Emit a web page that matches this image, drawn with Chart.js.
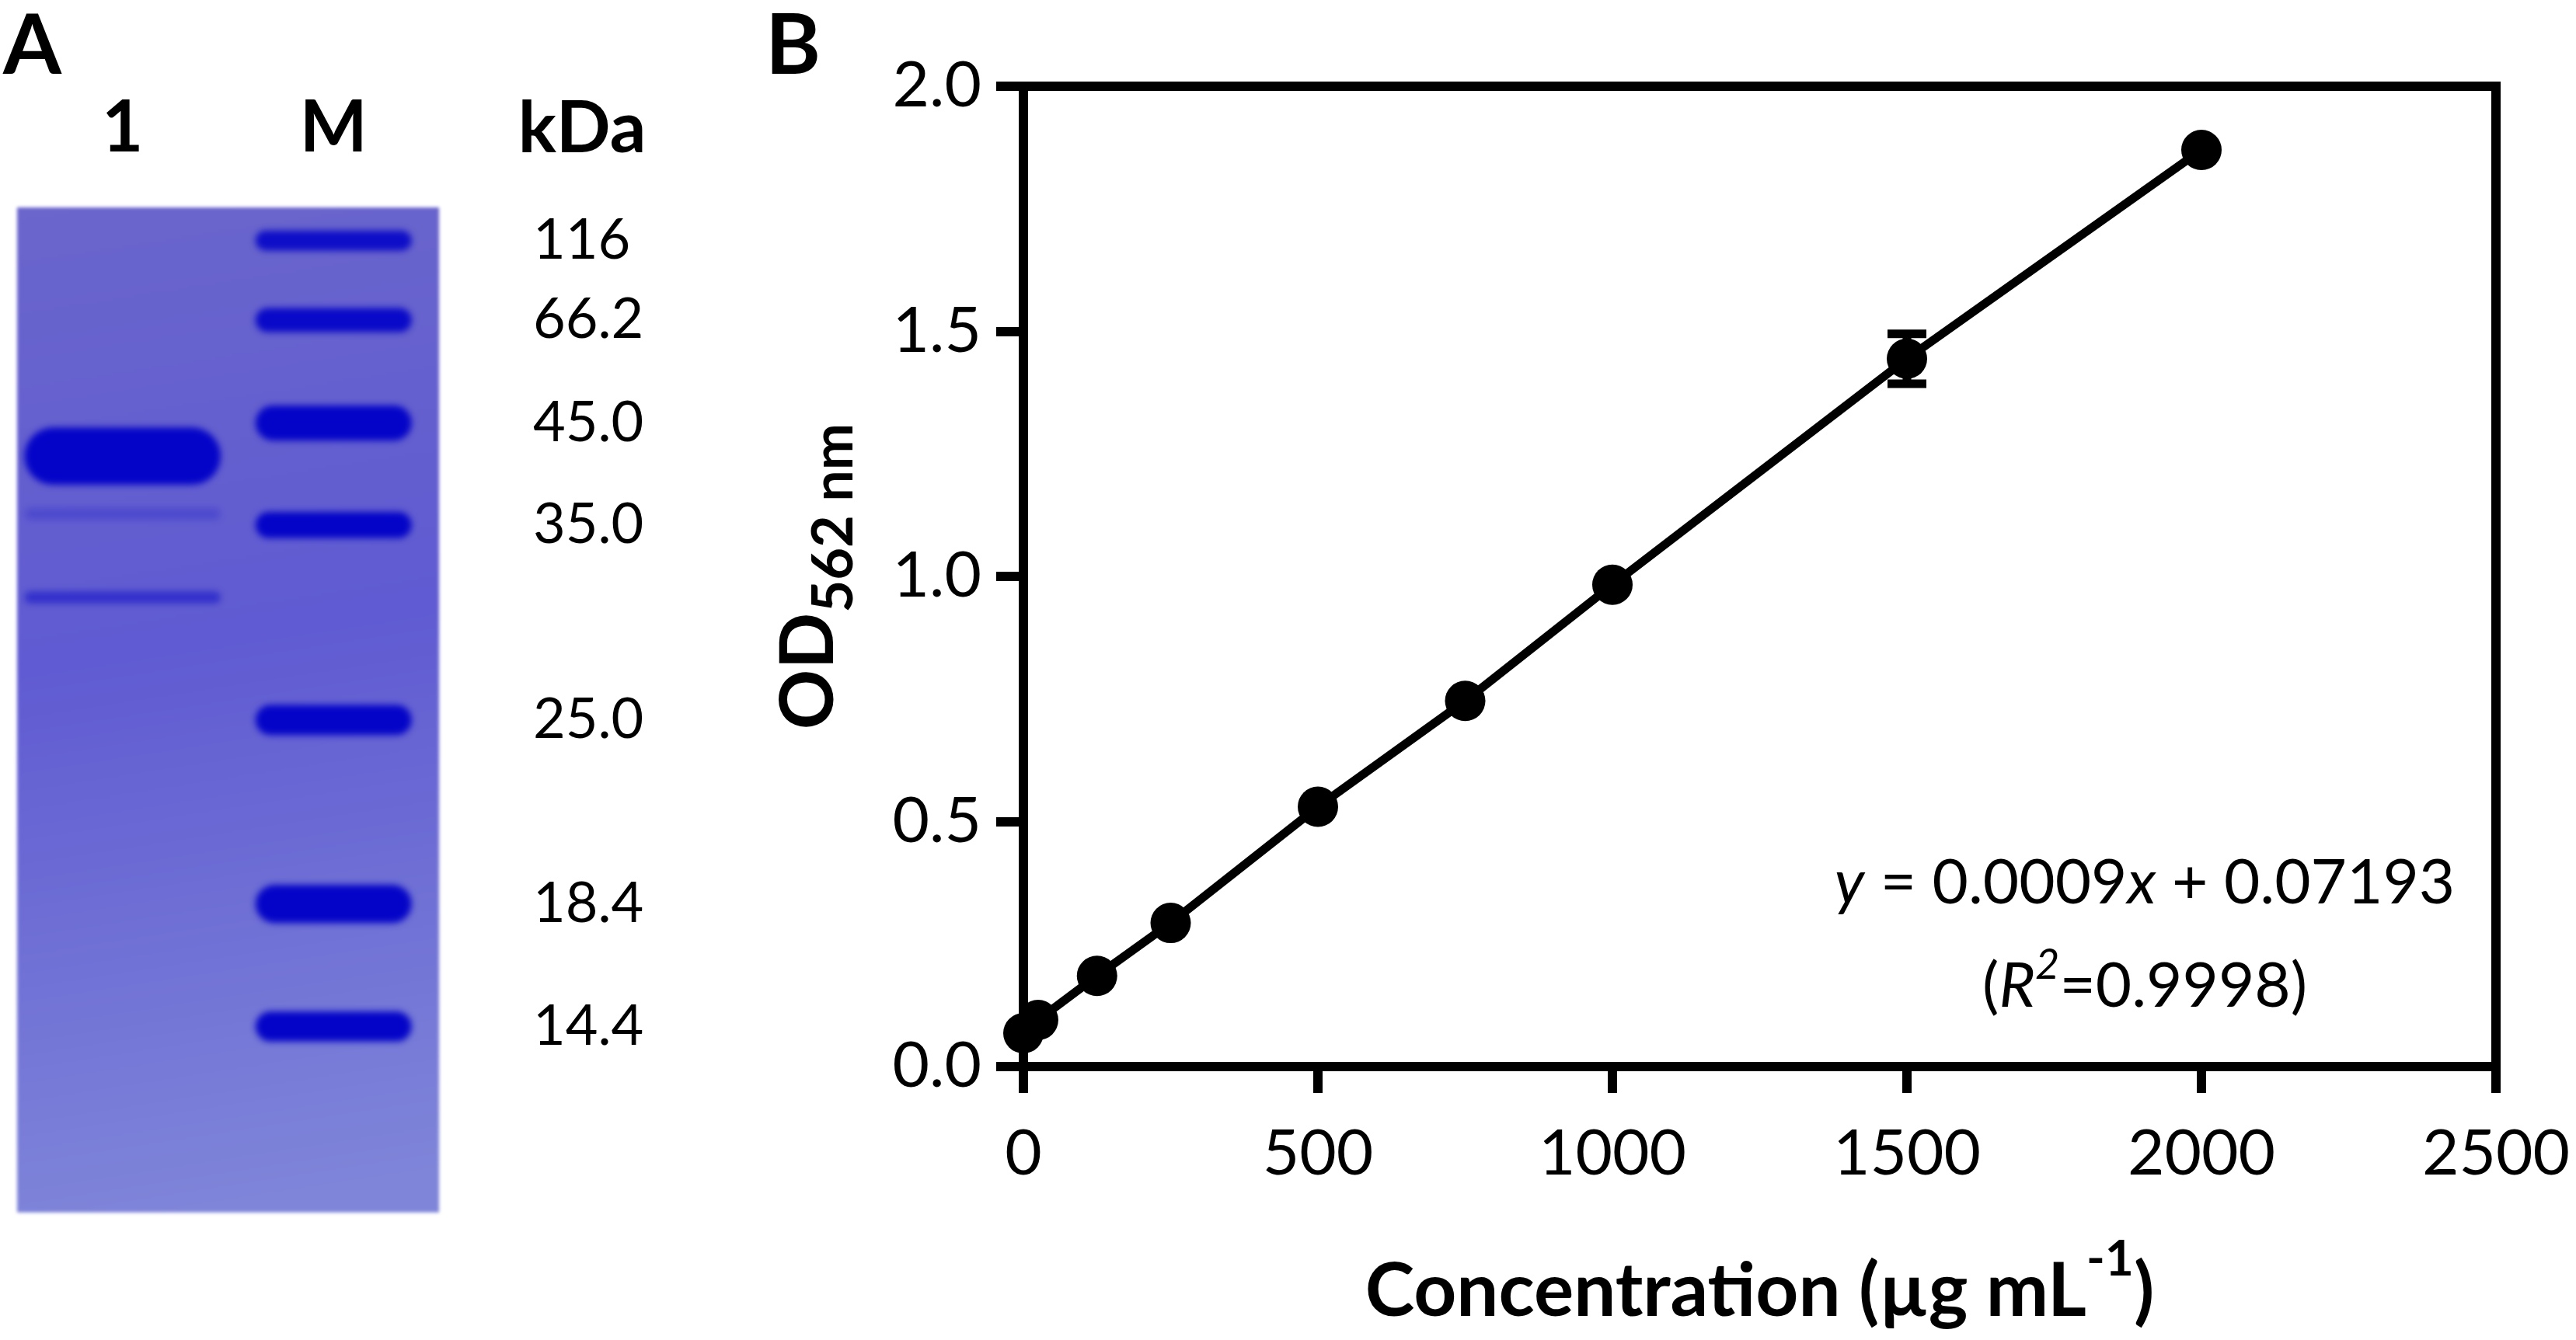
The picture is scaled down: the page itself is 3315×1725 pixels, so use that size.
<!DOCTYPE html>
<html>
<head>
<meta charset="utf-8">
<script src="https://cdn.jsdelivr.net/npm/chart.js@4.4.1/dist/chart.umd.min.js"></script>
<style>
  html, body { margin: 0; padding: 0; background: #fff; }
  body { width: 3315px; height: 1725px; position: relative; overflow: hidden; }
  #gel { position: absolute; left: 0; top: 0; }
  #curve { position: absolute; left: 900px; top: 0; }
</style>
</head>
<body>
<canvas id="gel" width="900" height="1725"></canvas>
<canvas id="curve" width="2415" height="1725"></canvas>
<script>
// panel A: SDS-PAGE, band positions as % of gel length from the top
const lanes = ['1', 'M'];
const markerKDa = ['116', '66.2', '45.0', '35.0', '25.0', '18.4', '14.4'];
const markerBands = [[2.3, 4.3], [10.0, 12.4], [19.7, 23.2], [30.3, 32.9], [49.5, 52.5], [67.4, 71.2], [80.0, 83.0]];
const markerIntensity = [0.9, 0.95, 1, 1, 1, 1, 1];
const sampleBands = [[21.9, 27.6], [29.9, 31.1], [38.2, 39.4]];
const sampleIntensity = [1, 0.22, 0.5];

// panel B: BCA standard curve
const concentration = [0, 25, 125, 250, 500, 750, 1000, 1500, 2000];
const od562 = [0.068, 0.095, 0.185, 0.293, 0.530, 0.746, 0.983, 1.444, 1.870];
const odSD = [0, 0, 0, 0, 0, 0, 0, 0.051, 0];
const xTicks = [0, 500, 1000, 1500, 2000, 2500];
const yTicks = [0, 0.5, 1.0, 1.5, 2.0];

Chart.defaults.font.family = 'Lato, "Open Sans", sans-serif';
Chart.defaults.color = '#000';

function drawRuns(ctx, runs, x, y) {
  let total = 0;
  runs.forEach(r => { ctx.font = r.font; r.w = ctx.measureText(r.text).width; total += r.w; });
  let cx = x - total / 2;
  runs.forEach(r => { ctx.font = r.font; ctx.fillText(r.text, cx, y + (r.dy || 0)); cx += r.w; });
}

const gelLook = {
  id: 'gelLook',
  beforeDatasetsDraw(chart) {
    const { ctx, chartArea: a } = chart;
    const g = ctx.createLinearGradient(a.left, a.top, a.left + 200, a.bottom);
    g.addColorStop(0, '#6a66cc');
    g.addColorStop(0.45, '#605bd2');
    g.addColorStop(1, '#7f85d9');
    ctx.save();
    ctx.filter = 'blur(2px)';
    ctx.fillStyle = g;
    ctx.fillRect(a.left, a.top, a.right - a.left, a.bottom - a.top);
    ctx.restore();
    ctx.save();
    ctx.filter = 'blur(4px)';
  },
  afterDatasetsDraw(chart) {
    chart.ctx.restore();
  },
  afterDraw(chart) {
    const ctx = chart.ctx;
    ctx.save();
    ctx.fillStyle = '#000';
    ctx.textBaseline = 'alphabetic';
    ctx.textAlign = 'left';
    ctx.font = 'bold 108px Lato';
    ctx.fillText('A', 4, 95);
    ctx.textAlign = 'center';
    ctx.textBaseline = 'middle';
    ctx.font = 'bold 92px Lato';
    const xs = chart.scales.x;
    ctx.fillText('kDa', 749, xs.bottom - 46 - 55);
    ctx.restore();
  }
};

const bandSet = (band, lane, alpha, pct) => ({
  data: lane === 0 ? [band, null] : [null, band],
  backgroundColor: 'rgba(4, 4, 200, ' + alpha + ')',
  barPercentage: pct,
  categoryPercentage: 1,
  grouped: false,
  borderRadius: 60,
  borderSkipped: false
});

new Chart(document.getElementById('gel'), {
  type: 'bar',
  data: {
    labels: lanes,
    datasets: [
      ...sampleBands.map((b, i) => bandSet(b, 0, sampleIntensity[i], 0.93)),
      ...markerBands.map((b, i) => bandSet(b, 1, markerIntensity[i], 0.74))
    ]
  },
  options: {
    responsive: false,
    animation: false,
    devicePixelRatio: 1,
    layout: { padding: { left: 22, top: 0, right: 0, bottom: 150 } },
    plugins: { legend: { display: false }, tooltip: { enabled: false } },
    scales: {
      x: {
        position: 'top',
        grid: { display: false, drawTicks: false },
        border: { display: false },
        ticks: { font: { size: 92, weight: 'bold' }, padding: 46 },
        afterFit: s => { s.height = 267; }
      },
      y: {
        position: 'right',
        reverse: true,
        min: 0,
        max: 100,
        grid: { display: false, drawTicks: false },
        border: { display: false },
        ticks: { font: { size: 72 }, padding: 121, autoSkip: false, callback: (v, i) => markerKDa[i] },
        afterBuildTicks: s => { s.ticks = markerBands.map(b => ({ value: (b[0] + b[1]) / 2 })); },
        afterFit: s => { s.width = 335; }
      }
    }
  },
  plugins: [gelLook]
});

const frame = {
  id: 'frame',
  beforeDatasetsDraw(chart) {
    const { ctx, chartArea: a } = chart;
    ctx.save();
    ctx.strokeStyle = '#000';
    ctx.lineWidth = 12;
    ctx.beginPath();
    ctx.moveTo(a.left, a.top);
    ctx.lineTo(a.right + 6, a.top);
    ctx.moveTo(a.right, a.top);
    ctx.lineTo(a.right, a.bottom);
    ctx.stroke();
    ctx.restore();
  }
};

const errorBars = {
  id: 'errorBars',
  afterDatasetsDraw(chart) {
    const { ctx, scales: { x, y } } = chart;
    ctx.save();
    ctx.strokeStyle = '#000';
    ctx.lineWidth = 11;
    od562.forEach((v, i) => {
      if (!odSD[i]) return;
      const px = x.getPixelForValue(concentration[i]);
      const hi = y.getPixelForValue(v + odSD[i]);
      const lo = y.getPixelForValue(v - odSD[i]);
      ctx.beginPath();
      ctx.moveTo(px, hi); ctx.lineTo(px, lo);
      ctx.moveTo(px - 25, hi); ctx.lineTo(px + 25, hi);
      ctx.moveTo(px - 25, lo); ctx.lineTo(px + 25, lo);
      ctx.stroke();
    });
    ctx.restore();
  }
};

const texts = {
  id: 'texts',
  afterDraw(chart) {
    const ctx = chart.ctx;
    const a = chart.chartArea;
    ctx.save();
    ctx.fillStyle = '#000';
    ctx.textAlign = 'left';
    ctx.textBaseline = 'alphabetic';
    ctx.font = 'bold 108px Lato';
    ctx.fillText('B', 85, 95);

    // x title
    drawRuns(ctx, [
      { text: 'Concentration (\u00b5g mL', font: 'bold 96px Lato' },
      { text: '-1', font: 'bold 64px Lato', dy: -52 },
      { text: ')', font: 'bold 96px Lato' }
    ], (a.left + a.right) / 2, 1694);

    // y title
    ctx.save();
    ctx.translate(172, (a.top + a.bottom) / 2);
    ctx.rotate(-Math.PI / 2);
    drawRuns(ctx, [
      { text: 'OD', font: 'bold 96px Lato' },
      { text: '562 nm', font: 'bold 72px Lato', dy: 25 }
    ], 0, 0);
    ctx.restore();

    // fit equation
    const ex = a.left + 0.7615 * (a.right - a.left);
    drawRuns(ctx, [
      { text: 'y', font: 'italic 80px Lato' },
      { text: ' = 0.0009', font: '80px Lato' },
      { text: 'x', font: 'italic 80px Lato' },
      { text: ' + 0.07193', font: '80px Lato' }
    ], ex, 1163);
    drawRuns(ctx, [
      { text: '(', font: '80px Lato' },
      { text: 'R', font: 'italic 80px Lato' },
      { text: '2', font: 'italic 54px Lato', dy: -36 },
      { text: '=0.9998)', font: '80px Lato' }
    ], ex, 1296);
    ctx.restore();
  }
};

new Chart(document.getElementById('curve'), {
  type: 'scatter',
  data: {
    datasets: [{
      data: concentration.map((c, i) => ({ x: c, y: od562[i] })),
      showLine: true,
      borderColor: '#000',
      borderWidth: 11,
      pointRadius: 26,
      pointHoverRadius: 26,
      pointBackgroundColor: '#000',
      pointBorderWidth: 0,
      clip: false
    }]
  },
  options: {
    responsive: false,
    animation: false,
    devicePixelRatio: 1,
    layout: { padding: { top: 111, right: 103, left: 0, bottom: 0 } },
    plugins: { legend: { display: false }, tooltip: { enabled: false } },
    scales: {
      x: {
        type: 'linear',
        min: xTicks[0],
        max: xTicks[xTicks.length - 1],
        afterBuildTicks: s => { s.ticks = xTicks.map(v => ({ value: v })); },
        ticks: { font: { size: 82, lineHeight: 1.8 }, padding: 5, callback: v => String(v) },
        grid: { drawOnChartArea: false, tickLength: 34, lineWidth: 12, color: '#000' },
        border: { width: 12, color: '#000' },
        afterFit: s => { s.height = 352; }
      },
      y: {
        type: 'linear',
        min: yTicks[0],
        max: yTicks[yTicks.length - 1],
        afterBuildTicks: s => { s.ticks = yTicks.map(v => ({ value: v })); },
        ticks: { font: { size: 82 }, padding: 19, callback: v => v.toFixed(1) },
        grid: { drawOnChartArea: false, tickLength: 35, lineWidth: 12, color: '#000' },
        border: { width: 12, color: '#000' },
        afterFit: s => { s.width = 417; }
      }
    }
  },
  plugins: [frame, errorBars, texts]
});
</script>
</body>
</html>
